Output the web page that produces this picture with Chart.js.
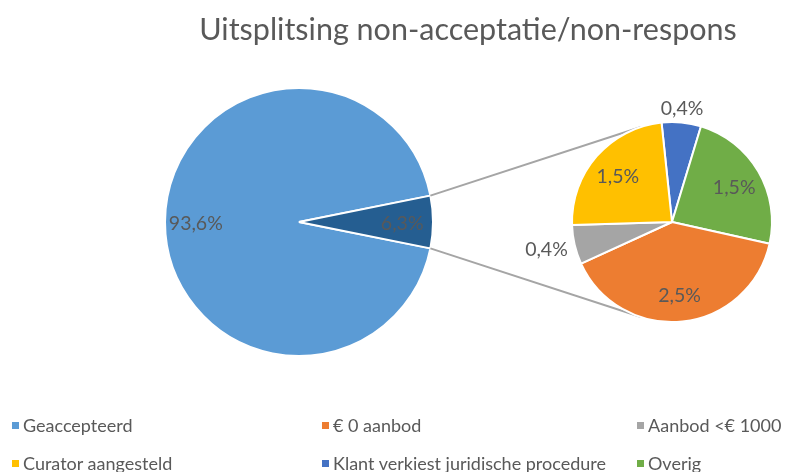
<!DOCTYPE html>
<html>
<head>
<meta charset="utf-8">
<script src="https://cdn.jsdelivr.net/npm/chart.js@4"></script>
<style>
  body { margin: 0; background: #fff; }
  #wrap { position: relative; width: 787px; height: 472px; overflow: hidden; font-family: Lato, "Open Sans", sans-serif; }
  #wrap canvas { position: absolute; left: 0; top: 0; }
  #title { position: absolute; left: 468px; top: 13px; transform: translateX(-50%); white-space: nowrap;
           font-size: 30.5px; line-height: 1; font-weight: 400; color: #595959; }
  #legend { position: absolute; left: 12px; top: 413px; display: grid;
            grid-template-columns: 310px 315px 150px; grid-auto-rows: 38px; font-size: 18px; color: #595959; }
  #legend div { display: flex; align-items: center; height: 24px; white-space: nowrap; }
  #legend span.box { display: inline-block; flex: 0 0 7px; width: 7px; height: 7px; margin-right: 4px; }
</style>
</head>
<body>
<div id="wrap">
  <canvas id="mainPie" width="787" height="472"></canvas>
  <canvas id="subPie" width="787" height="472"></canvas>
  <div id="title">Uitsplitsing non-acceptatie/non-respons</div>
  <div id="legend"></div>
</div>
<script>
// main pie: accepted vs the rest (rest is split out in the second pie)
const mainLabels = ["Geaccepteerd", "Overige"];
const mainValues = [93.6, 6.3];
const mainColors = ["#5B9BD5", "#255E91"];

// second pie, clockwise from the top
const subLabels = ["Klant verkiest juridische procedure", "Overig", "€ 0 aanbod", "Aanbod <€ 1000", "Curator aangesteld"];
const subValues = [0.4, 1.5, 2.5, 0.4, 1.5];
const subColors = ["#4472C4", "#70AD47", "#ED7D31", "#A5A5A5", "#FFC000"];

// legend order as in the original
const legendOrder = ["Geaccepteerd", "€ 0 aanbod", "Aanbod <€ 1000", "Curator aangesteld", "Klant verkiest juridische procedure", "Overig"];

const labelColor = "#595959";
const fmt = v => v.toFixed(1).replace(".", ",") + "%";

// value labels on the slices; small slices get their label outside
const sliceLabels = {
  id: "sliceLabels",
  afterDatasetsDraw(chart, args, opts) {
    const ctx = chart.ctx;
    const meta = chart.getDatasetMeta(0);
    const values = chart.data.datasets[0].data;
    const total = values.reduce((a, b) => a + b, 0);
    ctx.save();
    ctx.font = "19.5px Lato, 'Open Sans', sans-serif";
    ctx.fillStyle = labelColor;
    meta.data.forEach((arc, i) => {
      const mid = (arc.startAngle + arc.endAngle) / 2;
      const c = Math.cos(mid), s = Math.sin(mid);
      const small = values[i] / total < 0.1;
      if (!small || opts.inside) {
        const r = arc.outerRadius * opts.ratio;
        ctx.textAlign = "center";
        ctx.textBaseline = "middle";
        ctx.fillText(fmt(values[i]), arc.x + c * r, arc.y + s * r + 2);
      } else {
        const r = arc.outerRadius + 7;
        if (Math.abs(c) > 0.5) {
          ctx.textAlign = c < 0 ? "right" : "left";
          ctx.textBaseline = "middle";
        } else {
          ctx.textAlign = "center";
          ctx.textBaseline = s < 0 ? "bottom" : "top";
        }
        ctx.fillText(fmt(values[i]), arc.x + c * r, arc.y + s * r + 3);
      }
    });
    ctx.restore();
  }
};

const mainTotal = mainValues.reduce((a, b) => a + b, 0);
// turn the main pie so the split-off slice points to the right
const mainRotation = 90 - (mainValues[1] / mainTotal) * 180;

const mainChart = new Chart(document.getElementById("mainPie"), {
  type: "pie",
  data: {
    labels: mainLabels,
    datasets: [{ data: mainValues, backgroundColor: mainColors, borderColor: "#fff", borderWidth: 2, hoverOffset: 0 }]
  },
  options: {
    responsive: false,
    animation: false,
    rotation: mainRotation - (mainValues[0] / mainTotal) * 360 + 360,
    layout: { padding: { left: 164, right: 353, top: 87, bottom: 115 } },
    plugins: { legend: { display: false }, tooltip: { enabled: false }, sliceLabels: { ratio: 0.77, inside: true } }
  },
  plugins: [sliceLabels]
});

// grey lines from the split-off slice to the second pie
const connectors = {
  id: "connectors",
  beforeDatasetsDraw(chart) {
    const src = mainChart.getDatasetMeta(0).data[1];
    const dst = chart.getDatasetMeta(0).data[0];
    const ctx = chart.ctx;
    ctx.save();
    ctx.strokeStyle = "#A5A5A5";
    ctx.lineWidth = 2;
    [[src.startAngle, 1], [src.endAngle, -1]].forEach(([a, sign]) => {
      const px = src.x + Math.cos(a) * src.outerRadius;
      const py = src.y + Math.sin(a) * src.outerRadius;
      const dx = px - dst.x, dy = py - dst.y;
      const d = Math.hypot(dx, dy);
      const t = Math.atan2(dy, dx) + sign * Math.acos(dst.outerRadius / d);
      ctx.beginPath();
      ctx.moveTo(px, py);
      ctx.lineTo(dst.x + Math.cos(t) * dst.outerRadius, dst.y + Math.sin(t) * dst.outerRadius);
      ctx.stroke();
    });
    ctx.restore();
  }
};

new Chart(document.getElementById("subPie"), {
  type: "pie",
  data: {
    labels: subLabels,
    datasets: [{ data: subValues, backgroundColor: subColors, borderColor: "#fff", borderWidth: 2, hoverOffset: 0 }]
  },
  options: {
    responsive: false,
    animation: false,
    rotation: -6,
    layout: { padding: { left: 571, right: 14, top: 121, bottom: 149 } },
    plugins: { legend: { display: false }, tooltip: { enabled: false }, sliceLabels: { ratio: 0.72, inside: false } }
  },
  plugins: [connectors, sliceLabels]
});

// legend in three columns, colours taken from the two series
const colorOf = {};
mainLabels.forEach((l, i) => colorOf[l] = mainColors[i]);
subLabels.forEach((l, i) => colorOf[l] = subColors[i]);
const legendEl = document.getElementById("legend");
legendOrder.forEach(l => {
  const item = document.createElement("div");
  const box = document.createElement("span");
  box.className = "box";
  box.style.background = colorOf[l];
  item.appendChild(box);
  item.appendChild(document.createTextNode(l));
  legendEl.appendChild(item);
});
</script>
</body>
</html>
